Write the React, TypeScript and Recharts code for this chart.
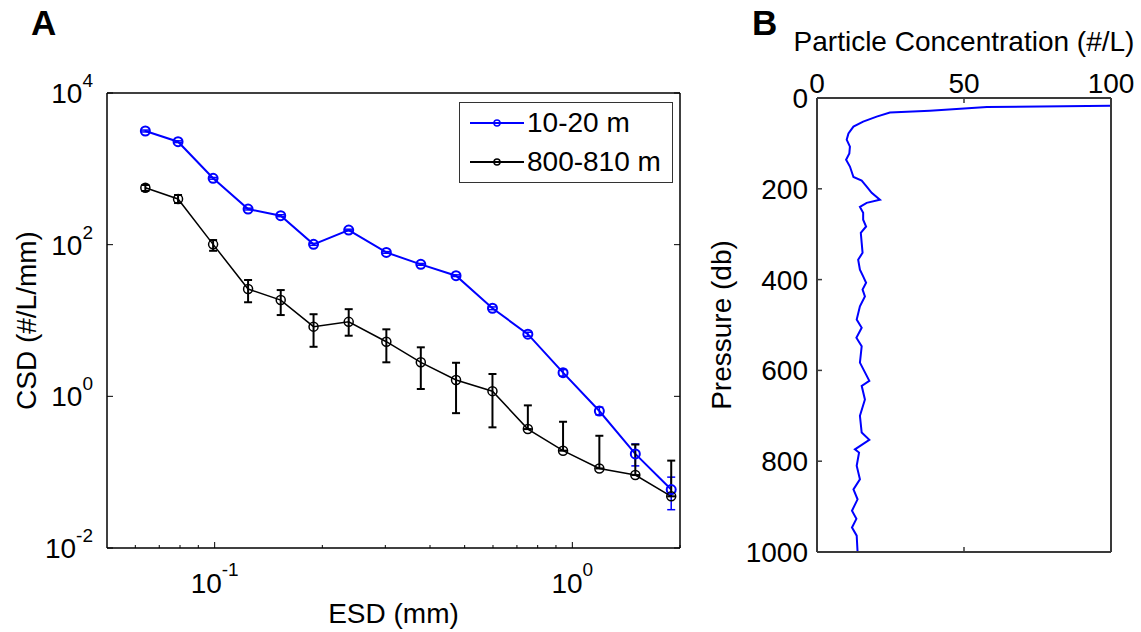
import React from "react";
import { LineChart, Line, XAxis, YAxis, ErrorBar, Legend, Label } from "recharts";

const FONT = "'Liberation Sans', Arial, sans-serif";
const BLUE = "#0000ff";

// panel A: size distribution
const esd = [0.064, 0.079, 0.099, 0.124, 0.153, 0.189, 0.237, 0.302, 0.377, 0.473, 0.598, 0.751, 0.942, 1.19, 1.5, 1.89];
const csdShallow = [3155, 2280, 750, 295, 241, 101, 156, 79, 55, 39, 14.5, 6.6, 2.05, 0.64, 0.174, 0.059];
const csdDeep = [564, 400, 101, 26, 18.6, 8.3, 9.6, 5.25, 2.81, 1.64, 1.17, 0.37, 0.192, 0.112, 0.0916, 0.048];
// [below, above]
const errShallow = [
  [90, 90], [60, 60], [20, 20], [8, 8], [7, 7], [3, 3], [4, 4], [2, 2],
  [1.5, 1.5], [1, 1], [0.6, 0.6], [0.4, 0.4], [0.2, 0.2], [0.07, 0.08], [0.053, 0.061], [0.027, 0.027],
];
const errDeep = [
  [54, 48], [46, 52], [18, 14], [8.6, 8.2], [6.8, 6.6], [3.8, 3.8], [3.3, 4.5], [2.44, 2.4],
  [1.56, 1.62], [1.04, 1.13], [0.78, 0.8], [0, 0.39], [0, 0.27], [0, 0.19], [0, 0.14], [0, 0.094],
];
const esdTicks = [0.06, 0.07, 0.08, 0.09, 0.1, 0.2, 0.3, 0.4, 0.5, 0.6, 0.7, 0.8, 0.9, 1, 2];
const csdTicks = [0.01, 1, 100, 10000];

// panel B: concentration profile
const pressure = [
  17, 20, 28, 32, 41, 52, 63, 78, 92, 107, 122, 136, 151, 174, 182, 195, 209, 224, 231, 240,
  253, 268, 283, 297, 319, 341, 356, 378, 393, 407, 422, 437, 459, 488, 506, 528, 547, 583, 623, 634,
  664, 700, 737, 753, 774, 781, 810, 840, 862, 884, 909, 927, 946, 964, 1000,
];
const conc = [
  100, 57.8, 38.4, 24.8, 20.3, 15.7, 12.4, 10.7, 10.1, 11.2, 11, 9.9, 11.2, 12.4, 15.2, 16.9, 18.6, 21.4, 16.9, 14.6,
  15.7, 15.7, 16.7, 14.9, 15.2, 15.5, 14.0, 14.6, 15.7, 16.7, 15.5, 16.3, 14.6, 13.5, 15.2, 13.4, 15.2, 14.6, 17.8, 15.2,
  16.3, 14.6, 15.2, 17.8, 12.9, 14.3, 13.5, 14.6, 12.4, 13.8, 11.9, 13.4, 11.9, 13.5, 13.8,
];
const concTicks = [0, 50, 100];
const pressureTicks = [0, 200, 400, 600, 800, 1000];

const csdData = esd.map((x, i) => ({
  esd: x,
  shallow: csdShallow[i],
  deep: csdDeep[i],
  shallowErr: errShallow[i],
  deepErr: errDeep[i],
}));
const profileData = pressure.map((p, i) => ({ pressure: p, conc: conc[i] }));

const isMajor = (v: number) => {
  const e = Math.log10(v);
  return Math.abs(e - Math.round(e)) < 1e-6;
};

function LogTickBottom({ x, y, payload }: any) {
  const major = isMajor(payload.value);
  return (
    <g>
      <line x1={x} y1={y} x2={x} y2={y - (major ? 6 : 3)} stroke="#000" />
      {major && (
        <text x={x} y={y + 45} textAnchor="middle" fontSize={28} fontFamily={FONT} fill="#000">
          10<tspan dy={-17} fontSize={19}>{Math.round(Math.log10(payload.value))}</tspan>
        </text>
      )}
    </g>
  );
}

function LogTickTop({ x, y, payload }: any) {
  const major = isMajor(payload.value);
  return <line x1={x} y1={y} x2={x} y2={y + (major ? 6 : 3)} stroke="#000" />;
}

function LogTickLeft({ x, y, payload }: any) {
  return (
    <g>
      <line x1={x} y1={y} x2={x + 6} y2={y} stroke="#000" />
      <text x={x - 14} y={y + 10} textAnchor="end" fontSize={28} fontFamily={FONT} fill="#000">
        10<tspan dy={-16} fontSize={19}>{Math.round(Math.log10(payload.value))}</tspan>
      </text>
    </g>
  );
}

function LogTickRight({ x, y }: any) {
  return <line x1={x} y1={y} x2={x - 6} y2={y} stroke="#000" />;
}

function ConcTickTop({ x, y, payload }: any) {
  return (
    <g>
      <line x1={x} y1={y} x2={x} y2={y + 5} stroke="#3a3a3a" strokeWidth={1.5} />
      <text x={x} y={y - 5} textAnchor="middle" fontSize={28} fontFamily={FONT} fill="#000">
        {payload.value}
      </text>
    </g>
  );
}

function ConcTickBottom({ x, y }: any) {
  return <line x1={x} y1={y} x2={x} y2={y - 5} stroke="#3a3a3a" strokeWidth={1.5} />;
}

function PressureTickLeft({ x, y, payload }: any) {
  return (
    <g>
      <line x1={x} y1={y} x2={x + 5} y2={y} stroke="#3a3a3a" strokeWidth={1.5} />
      <text x={x - 9} y={y + 10} textAnchor="end" fontSize={28} fontFamily={FONT} fill="#000">
        {payload.value}
      </text>
    </g>
  );
}

function PressureTickRight({ x, y }: any) {
  return <line x1={x} y1={y} x2={x - 5} y2={y} stroke="#3a3a3a" strokeWidth={1.5} />;
}

function CsdLegend({ payload }: any) {
  return (
    <div
      style={{
        position: "relative",
        width: 214,
        height: 81,
        border: "1px solid #333",
        boxSizing: "border-box",
        background: "#fff",
        fontFamily: FONT,
        fontSize: 28,
        color: "#000",
      }}
    >
      {(payload || []).map((entry: any, i: number) => (
        <div
          key={i}
          style={{ position: "absolute", left: 10, top: 1 + i * 39, height: 38, display: "flex", alignItems: "center" }}
        >
          <svg width={54} height={12}>
            <line x1={0} y1={6} x2={54} y2={6} stroke={entry.color} strokeWidth={2} />
            <circle cx={27} cy={6} r={3} fill="none" stroke={entry.color} strokeWidth={1.5} />
          </svg>
          <span style={{ marginLeft: 3, lineHeight: "38px", whiteSpace: "nowrap" }}>{entry.value}</span>
        </div>
      ))}
    </div>
  );
}

const axisA = { stroke: "#000", strokeWidth: 1.5 };
const axisB = { stroke: "#3a3a3a", strokeWidth: 2 };
const labelStyle = { fontSize: 28, fill: "#000", fontFamily: FONT };

export default function App() {
  return (
    <div style={{ position: "absolute", left: 0, top: 0, width: 1141, height: 632, background: "#fff" }}>
      <div style={{ position: "absolute", left: 31, top: 5, font: `bold 35px ${FONT}`, lineHeight: "35px" }}>A</div>
      <div style={{ position: "absolute", left: 752, top: 5, font: `bold 35px ${FONT}`, lineHeight: "35px" }}>B</div>

      <div style={{ position: "absolute", left: 0, top: 0 }}>
        <LineChart width={700} height={632} data={csdData} margin={{ top: 92, left: 106, right: 19, bottom: 83 }}>
          <XAxis
            dataKey="esd"
            type="number"
            scale="log"
            domain={[0.05, 2]}
            allowDataOverflow
            ticks={esdTicks}
            interval={0}
            height={1}
            tickSize={0}
            tickMargin={0}
            tickLine={false}
            axisLine={axisA}
            tick={<LogTickBottom />}
          >
            <Label value="ESD (mm)" position="bottom" offset={54} {...labelStyle} />
          </XAxis>
          <XAxis
            xAxisId="top"
            orientation="top"
            type="number"
            scale="log"
            domain={[0.05, 2]}
            allowDataOverflow
            ticks={esdTicks}
            interval={0}
            height={1}
            tickSize={0}
            tickMargin={0}
            tickLine={false}
            axisLine={axisA}
            tick={<LogTickTop />}
          />
          <YAxis
            type="number"
            scale="log"
            domain={[0.01, 10000]}
            allowDataOverflow
            ticks={csdTicks}
            interval={0}
            width={1}
            tickSize={0}
            tickMargin={0}
            tickLine={false}
            axisLine={axisA}
            tick={<LogTickLeft />}
          >
            <Label value="CSD (#/L/mm)" angle={-90} position="left" offset={80} textAnchor="middle" {...labelStyle} />
          </YAxis>
          <YAxis
            yAxisId="r"
            orientation="right"
            type="number"
            scale="log"
            domain={[0.01, 10000]}
            allowDataOverflow
            ticks={csdTicks}
            interval={0}
            width={1}
            tickSize={0}
            tickMargin={0}
            tickLine={false}
            axisLine={axisA}
            tick={<LogTickRight />}
          />
          <Line
            dataKey="shallow"
            name="10-20 m"
            stroke={BLUE}
            strokeWidth={2}
            dot={{ r: 4.5, fill: "none", stroke: BLUE, strokeWidth: 2 }}
            activeDot={false}
            isAnimationActive={false}
          >
            <ErrorBar dataKey="shallowErr" direction="y" width={4} stroke={BLUE} strokeWidth={1.5} />
          </Line>
          <Line
            dataKey="deep"
            name="800-810 m"
            stroke="#000"
            strokeWidth={1.5}
            dot={{ r: 4.5, fill: "none", stroke: "#000", strokeWidth: 1.5 }}
            activeDot={false}
            isAnimationActive={false}
          >
            <ErrorBar dataKey="deepErr" direction="y" width={4} stroke="#000" strokeWidth={2} />
          </Line>
          <Legend
            layout="vertical"
            align="center"
            verticalAlign="middle"
            content={<CsdLegend />}
            wrapperStyle={{ left: 459, top: 102, width: 214, height: 81 }}
          />
        </LineChart>
      </div>

      <div style={{ position: "absolute", left: 700, top: 0 }}>
        <LineChart
          layout="vertical"
          width={441}
          height={632}
          data={profileData}
          margin={{ top: 97, left: 116, right: 29, bottom: 79 }}
        >
          <XAxis
            type="number"
            orientation="top"
            domain={[0, 100]}
            allowDataOverflow
            ticks={concTicks}
            interval={0}
            height={1}
            tickSize={0}
            tickMargin={0}
            tickLine={false}
            axisLine={axisB}
            tick={<ConcTickTop />}
          >
            <Label value="Particle Concentration (#/L)" position="top" offset={46} {...labelStyle} />
          </XAxis>
          <XAxis
            xAxisId="b"
            type="number"
            orientation="bottom"
            domain={[0, 100]}
            allowDataOverflow
            ticks={concTicks}
            interval={0}
            height={1}
            tickSize={0}
            tickMargin={0}
            tickLine={false}
            axisLine={axisB}
            tick={<ConcTickBottom />}
          />
          <YAxis
            type="number"
            dataKey="pressure"
            domain={[0, 1000]}
            allowDataOverflow
            ticks={pressureTicks}
            interval={0}
            width={1}
            tickSize={0}
            tickMargin={0}
            tickLine={false}
            axisLine={axisB}
            tick={<PressureTickLeft />}
          >
            <Label value="Pressure (db)" angle={-90} position="left" offset={95} textAnchor="middle" {...labelStyle} />
          </YAxis>
          <YAxis
            yAxisId="r"
            orientation="right"
            type="number"
            domain={[0, 1000]}
            allowDataOverflow
            ticks={pressureTicks}
            interval={0}
            width={1}
            tickSize={0}
            tickMargin={0}
            tickLine={false}
            axisLine={axisB}
            tick={<PressureTickRight />}
          />
          <Line
            dataKey="conc"
            stroke={BLUE}
            strokeWidth={2}
            dot={false}
            activeDot={false}
            isAnimationActive={false}
          />
        </LineChart>
      </div>
    </div>
  );
}
